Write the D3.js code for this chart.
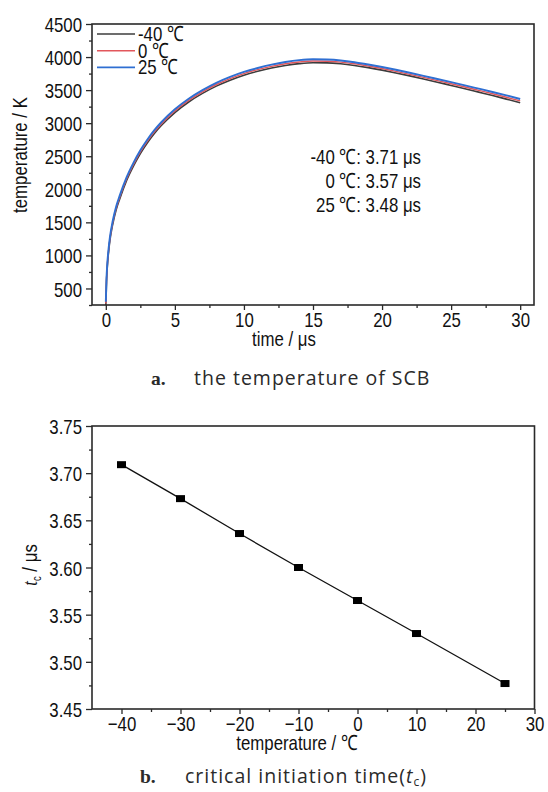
<!DOCTYPE html>
<html>
<head>
<meta charset="utf-8">
<script src="https://cdn.jsdelivr.net/npm/d3@7"></script>
<style>
  html, body { margin: 0; padding: 0; background: #fff; }
  svg { display: block; }
  .ax { font-family: "Liberation Sans", Arial, sans-serif; fill: #111; }
  .cap { font-family: "Open Sans", "Noto Sans", sans-serif; fill: #2a2a2a; letter-spacing: 1px; }
  .capb { font-family: "Liberation Serif", "DejaVu Serif", serif; font-weight: bold; fill: #2a2a2a; }
</style>
</head>
<body>
<svg id="fig" width="548" height="792"></svg>
<script>
// ---- panel a: SCB temperature vs time ----
const timeUs = [0, 0.05, 0.1, 0.2, 0.3, 0.5, 0.75, 1, 1.5, 2, 2.5, 3, 3.5, 4, 5, 6, 7, 8, 9, 10,
  11, 12, 13, 14, 15, 16, 17, 18, 19, 20, 21, 22, 23, 24, 25, 26, 27, 28, 29, 30];
const tempM40 = [233, 600, 800, 1050, 1230, 1470, 1690, 1850, 2130, 2350, 2540, 2700, 2840, 2960, 3160, 3320, 3450, 3560, 3650, 3725,
  3785, 3835, 3873, 3900, 3914, 3912, 3898, 3873, 3840, 3802, 3760, 3715, 3668, 3620, 3571, 3522, 3470, 3418, 3364, 3310];
const temp0 = [273, 625, 825, 1075, 1255, 1495, 1715, 1875, 2155, 2375, 2565, 2725, 2865, 2985, 3185, 3345, 3475, 3585, 3675, 3750,
  3810, 3860, 3899, 3926, 3940, 3937, 3923, 3898, 3864, 3826, 3784, 3739, 3692, 3644, 3596, 3547, 3496, 3445, 3392, 3338];
const temp25 = [298, 650, 850, 1100, 1280, 1520, 1740, 1900, 2180, 2400, 2590, 2750, 2890, 3010, 3210, 3370, 3500, 3610, 3700, 3775,
  3835, 3885, 3925, 3953, 3966, 3962, 3948, 3922, 3888, 3850, 3808, 3763, 3716, 3668, 3620, 3572, 3522, 3472, 3420, 3366];
const seriesLabels = ["-40 ℃", "0 ℃", "25 ℃"];
const seriesColors = ["#3c3c3c", "#e2575c", "#2f6fd2"];
const noteLabels = ["-40 ℃: 3.71 μs", "0 ℃: 3.57 μs", "25 ℃: 3.48 μs"];
const timeTicks = [0, 5, 10, 15, 20, 25, 30];
const kelvinTicks = [500, 1000, 1500, 2000, 2500, 3000, 3500, 4000, 4500];

// ---- panel b: critical initiation time vs ambient temperature ----
const ambientC = [-40, -30, -20, -10, 0, 10, 25];
const critTimeUs = [3.709, 3.673, 3.636, 3.600, 3.565, 3.530, 3.477];
const ambientTicks = [-40, -30, -20, -10, 0, 10, 20, 30];
const critTicks = [3.45, 3.50, 3.55, 3.60, 3.65, 3.70, 3.75];

const svg = d3.select("#fig");
const FS = 21;        // axis text size
const NARROW = 0.8;   // horizontal squeeze for the condensed axis lettering

function frame(g, x, y) {
  const [x0, x1] = x.range(), [y1, y0] = y.range();
  g.append("rect").attr("x", x0).attr("y", y0).attr("width", x1 - x0).attr("height", y1 - y0)
    .attr("fill", "none").attr("stroke", "#2a2a2a").attr("stroke-width", 1.6);
}

function axes(g, x, y, xMajor, xMinor, yMajor, yMinor, yFmt) {
  const yb = y.range()[0], xl = x.range()[0];
  const xa = g.append("g").attr("transform", `translate(0,${yb})`)
    .call(d3.axisBottom(x).tickValues(xMajor).tickSize(5).tickPadding(4).tickFormat(d3.format("d")));
  const xm = g.append("g").attr("transform", `translate(0,${yb})`)
    .call(d3.axisBottom(x).tickValues(xMinor).tickSize(3).tickFormat(""));
  const ya = g.append("g").attr("transform", `translate(${xl},0)`)
    .call(d3.axisLeft(y).tickValues(yMajor).tickSize(6).tickPadding(4).tickFormat(yFmt));
  const ym = g.append("g").attr("transform", `translate(${xl},0)`)
    .call(d3.axisLeft(y).tickValues(yMinor).tickSize(3).tickFormat(""));
  [xa, xm, ya, ym].forEach(a => {
    a.select(".domain").remove();
    a.selectAll("line").attr("stroke", "#2a2a2a").attr("stroke-width", 1.3);
    a.selectAll("text").attr("class", "ax").attr("font-size", FS).attr("fill", "#111");
  });
  xa.selectAll("text").attr("dy", "0.6em");
  ya.selectAll("text").attr("dy", "0.36em");
}

// panel a
{
  const x = d3.scaleLinear().domain([-1, 31]).range([92, 534]);
  const y = d3.scaleLinear().domain([250, 4500]).range([305, 24]);
  const g = svg.append("g");
  const clipId = "clipA";
  svg.append("clipPath").attr("id", clipId).append("rect")
    .attr("x", 92).attr("y", 24).attr("width", 442).attr("height", 281);
  const line = d3.line().x((d, i) => x(timeUs[i])).y(d => y(d)).curve(d3.curveMonotoneX);
  const data = [tempM40, temp0, temp25];
  const widths = [1.6, 1.4, 1.9];
  data.forEach((s, k) => {
    g.append("path").attr("d", line(s)).attr("fill", "none")
      .attr("stroke", seriesColors[k]).attr("stroke-width", widths[k])
      .attr("clip-path", `url(#${clipId})`);
  });
  frame(g, x, y);
  axes(g, x, y, timeTicks, d3.range(2.5, 30, 5), kelvinTicks, d3.range(250, 4500, 500), d3.format("d"));

  // legend
  seriesLabels.forEach((lab, k) => {
    const ly = 34 + k * 16.7;
    g.append("line").attr("x1", 97).attr("x2", 135).attr("y1", ly).attr("y2", ly)
      .attr("stroke", seriesColors[k]).attr("stroke-width", widths[k]);
    g.append("text").attr("class", "ax").attr("font-size", FS).attr("x", 138).attr("y", ly + 7).text(lab);
  });

  // critical-time notes
  noteLabels.forEach((t, k) => {
    g.append("text").attr("class", "ax").attr("font-size", FS).attr("text-anchor", "end")
      .attr("x", 421).attr("y", 163.5 + k * 24.3).text(t);
  });

  g.append("text").attr("class", "ax").attr("font-size", FS).attr("text-anchor", "middle")
    .attr("x", 284).attr("y", 346).text("time / μs");
  g.append("text").attr("class", "ax").attr("font-size", FS).attr("text-anchor", "middle")
    .attr("transform", "translate(27,155) rotate(-90)").text("temperature / K");

  const c = g.append("text").attr("x", 151).attr("y", 385).attr("font-size", 19.5);
  c.append("tspan").attr("class", "capb").text("a.");
  c.append("tspan").attr("class", "cap").attr("x", 194).text("the temperature of SCB");
}

// panel b
{
  const x = d3.scaleLinear().domain([-45, 30]).range([92, 534.5]);
  const y = d3.scaleLinear().domain([3.45, 3.75]).range([709, 426]);
  const g = svg.append("g");
  frame(g, x, y);
  axes(g, x, y, ambientTicks, d3.range(-35, 30, 10), critTicks, d3.range(3.475, 3.75, 0.05), d3.format(".2f"));

  const line = d3.line().x((d, i) => x(ambientC[i])).y(d => y(d));
  g.append("path").attr("d", line(critTimeUs)).attr("fill", "none")
    .attr("stroke", "#111").attr("stroke-width", 1.3);
  g.selectAll("rect.pt").data(critTimeUs).join("rect").attr("class", "pt")
    .attr("x", (d, i) => x(ambientC[i]) - 4.5).attr("y", d => y(d) - 3.5)
    .attr("width", 9).attr("height", 7).attr("fill", "#000");

  g.append("text").attr("class", "ax").attr("font-size", FS).attr("text-anchor", "middle")
    .attr("x", 297).attr("y", 750).text("temperature / ℃");
  const yl = g.append("text").attr("class", "ax").attr("font-size", FS).attr("text-anchor", "middle")
    .attr("transform", "translate(37,565) rotate(-90)");
  yl.append("tspan").attr("font-style", "italic").attr("font-family", "Liberation Serif, serif").text("t");
  yl.append("tspan").attr("font-size", 12).attr("dy", 4).text("c");
  yl.append("tspan").attr("dy", -4).text(" / μs");

  const c = g.append("text").attr("x", 140).attr("y", 783).attr("font-size", 19.5);
  c.append("tspan").attr("class", "capb").text("b.");
  c.append("tspan").attr("class", "cap").attr("x", 185).text("critical initiation time(");
  c.append("tspan").attr("class", "cap").attr("font-style", "italic").text("t");
  c.append("tspan").attr("class", "cap").attr("font-size", 12).attr("dy", 3).text("c");
  c.append("tspan").attr("class", "cap").attr("dy", -3).text(")");
}

// condensed look for the axis lettering: squeeze every axis text horizontally
svg.selectAll("text.ax").each(function () {
  const w = this.getComputedTextLength();
  if (w > 0) d3.select(this).attr("textLength", w * NARROW).attr("lengthAdjust", "spacingAndGlyphs");
});
</script>
</body>
</html>
